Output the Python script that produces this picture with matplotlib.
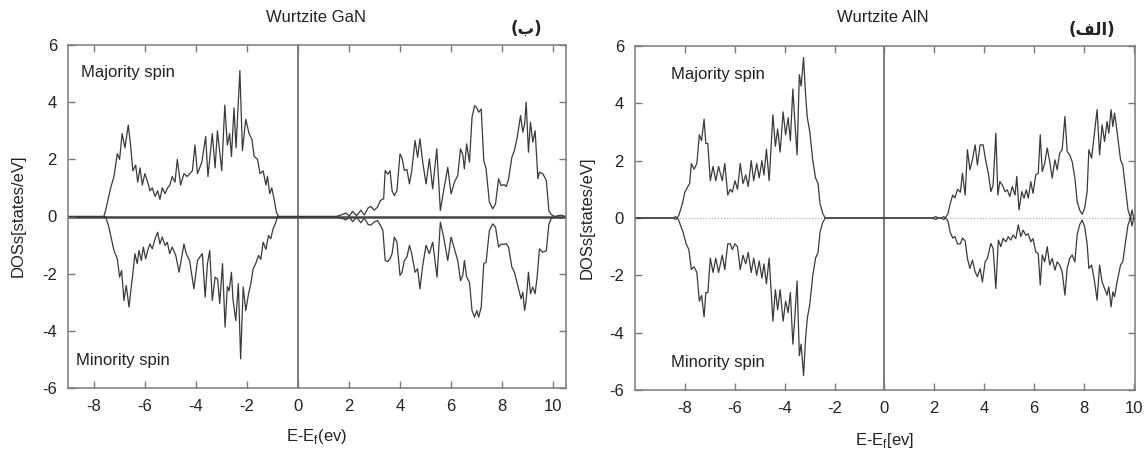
import matplotlib
matplotlib.use("Agg")
import matplotlib.pyplot as plt

plt.rcParams['font.family'] = ['Liberation Sans', 'DejaVu Sans']
plt.rcParams['axes.unicode_minus'] = False

# ---------------- data ----------------
gan_title = "Wurtzite GaN"
aln_title = "Wurtzite AlN"
gan_tag = "(ب)"
aln_tag = "(الف)"

gan_up_x = [
    -9.00, -7.60, -7.53, -7.43, -7.33, -7.20, -7.07, -6.98, -6.88, -6.77,
    -6.64, -6.55, -6.46, -6.35, -6.27, -6.18, -6.09, -5.99, -5.88, -5.79,
    -5.70, -5.59, -5.49, -5.40, -5.31, -5.20, -5.10, -5.01, -4.92, -4.81,
    -4.72, -4.59, -4.46, -4.33, -4.13, -4.03, -3.93, -3.76, -3.61, -3.52,
    -3.35, -3.24, -3.15, -2.98, -2.86, -2.76, -2.67, -2.60, -2.50, -2.42,
    -2.27, -2.17, -2.04, -1.91, -1.80, -1.71, -1.58, -1.48, -1.36, -1.25,
    -1.19, -1.10, -1.02, -0.93, -0.84, -0.76, 1.50, 1.69, 1.88, 2.02,
    2.14, 2.30, 2.47, 2.60, 2.75, 2.86, 2.99, 3.12, 3.23, 3.36,
    3.42, 3.52, 3.61, 3.69, 3.78, 3.88, 4.00, 4.08, 4.17, 4.27,
    4.37, 4.46, 4.59, 4.69, 4.78, 4.89, 5.02, 5.15, 5.28, 5.44,
    5.58, 5.71, 5.87, 6.00, 6.13, 6.26, 6.37, 6.46, 6.52, 6.61,
    6.72, 6.82, 6.92, 7.01, 7.08, 7.18, 7.28, 7.37, 7.50, 7.63,
    7.74, 7.86, 7.96, 8.07, 8.16, 8.25, 8.38, 8.48, 8.59, 8.72,
    8.81, 8.88, 8.94, 9.03, 9.11, 9.20, 9.29, 9.40, 9.46, 9.59,
    9.73, 9.83, 9.92, 10.05, 10.30, 10.50]
gan_up_y = [
    0, 0, 0.2, 0.6, 1.0, 1.4, 2.2, 2.0, 2.9, 2.4,
    3.2, 2.5, 1.6, 1.8, 1.2, 1.7, 1.1, 1.5, 1.2, 0.9,
    1.0, 0.7, 0.9, 0.6, 1.0, 0.8, 1.0, 1.1, 1.4, 1.2,
    2.0, 1.1, 1.5, 1.4, 1.6, 2.5, 1.5, 1.9, 2.8, 1.4,
    2.9, 1.7, 3.0, 1.6, 3.9, 2.5, 2.9, 2.1, 3.8, 2.4,
    5.1, 2.3, 3.4, 2.9, 2.7, 2.1, 2.0, 1.5, 1.6, 1.1,
    1.4, 0.8, 1.0, 0.6, 0.15, 0.0, 0.0, 0.05, 0.12, 0.02,
    0.18, 0.03, 0.22, 0.05, 0.30, 0.35, 0.22, 0.33, 0.56, 0.62,
    1.61, 1.48, 1.60, 0.90, 0.73, 0.90, 2.19, 2.05, 1.61, 1.65,
    1.14, 1.61, 2.66, 2.07, 2.72, 1.90, 1.14, 2.02, 0.97, 2.37,
    0.21, 0.91, 1.72, 0.79, 1.20, 1.43, 2.37, 2.15, 1.67, 2.54,
    1.90, 3.47, 3.88, 3.80, 3.65, 3.76, 1.96, 1.67, 0.50, 0.27,
    0.44, 1.32, 1.08, 1.12, 1.05, 1.30, 2.07, 2.31, 2.77, 3.53,
    2.95, 3.24, 4.00, 2.25, 3.30, 2.60, 3.00, 1.32, 1.55, 1.50,
    1.26, 0.20, 0.07, 0.0, 0.05, 0.0]

gan_dn_x = [
    -9.00, -7.60, -7.53, -7.40, -7.20, -7.07, -6.98, -6.90, -6.81, -6.72,
    -6.61, -6.54, -6.46, -6.38, -6.29, -6.22, -6.13, -6.05, -5.96, -5.88,
    -5.79, -5.70, -5.59, -5.49, -5.40, -5.31, -5.20, -5.11, -5.02, -4.92,
    -4.78, -4.65, -4.55, -4.46, -4.37, -4.24, -4.07, -3.93, -3.84, -3.74,
    -3.63, -3.54, -3.45, -3.35, -3.24, -3.14, -3.06, -2.95, -2.85, -2.76,
    -2.69, -2.60, -2.54, -2.43, -2.33, -2.24, -2.14, -2.04, -1.93, -1.84,
    -1.75, -1.65, -1.54, -1.45, -1.36, -1.25, -1.15, -1.06, -0.97, -0.86,
    -0.80, 1.50, 1.69, 1.88, 2.02, 2.14, 2.30, 2.47, 2.60, 2.75,
    2.86, 2.99, 3.12, 3.23, 3.33, 3.42, 3.52, 3.61, 3.69, 3.78,
    3.88, 4.00, 4.08, 4.17, 4.27, 4.37, 4.46, 4.59, 4.69, 4.78,
    4.89, 5.02, 5.15, 5.28, 5.45, 5.58, 5.71, 5.87, 6.00, 6.13,
    6.26, 6.37, 6.46, 6.52, 6.61, 6.72, 6.82, 6.92, 7.01, 7.08,
    7.18, 7.28, 7.37, 7.50, 7.63, 7.74, 7.86, 7.96, 8.07, 8.16,
    8.25, 8.38, 8.48, 8.61, 8.74, 8.81, 8.88, 8.94, 9.03, 9.11,
    9.20, 9.29, 9.37, 9.46, 9.59, 9.73, 9.83, 9.92, 10.05, 10.30,
    10.50]
gan_dn_y = [
    0, 0, 0, -0.37, -1.19, -1.48, -2.12, -1.89, -2.94, -2.41,
    -3.17, -2.59, -2.0, -1.3, -1.65, -1.19, -1.54, -1.07, -1.48, -1.19,
    -0.96, -1.13, -0.78, -0.55, -0.96, -0.72, -1.01, -0.9, -1.3, -1.07,
    -1.36, -1.95, -1.42, -0.96, -1.3, -1.54, -2.53, -1.54, -1.42, -1.3,
    -2.82, -1.65, -1.19, -2.94, -2.12, -2.2, -3.05, -1.65, -3.87, -2.45,
    -2.6, -1.95, -2.9, -3.64, -2.35, -4.98, -2.47, -3.29, -2.7, -2.35,
    -1.83, -1.65, -1.36, -1.5, -0.9, -1.15, -0.66, -0.78, -0.43, -0.2,
    0.0, 0.0, -0.05, -0.12, -0.02, -0.18, -0.03, -0.22, -0.05, -0.28,
    -0.3, -0.2, -0.14, -0.31, -0.49, -1.54, -1.58, -1.48, -1.3, -0.72,
    -0.9, -2.06, -1.95, -1.54, -1.42, -1.01, -1.3, -1.95, -1.83, -2.53,
    -1.71, -1.01, -1.3, -0.9, -2.12, -0.2, -0.72, -1.54, -0.72, -1.13,
    -1.54, -2.24, -2.05, -1.54, -2.12, -2.3, -3.29, -3.52, -3.29, -3.52,
    -3.17, -1.65, -1.6, -0.49, -0.26, -0.37, -1.07, -0.96, -0.98, -0.95,
    -1.07, -1.77, -1.95, -2.41, -2.88, -2.65, -3.29, -2.94, -1.95, -2.7,
    -2.47, -2.7, -2.12, -1.13, -1.25, -1.2, -0.26, -0.08, 0.0, -0.05,
    0.0]

aln_up_x = [
    -10.0, -8.45, -8.38, -8.30, -8.24, -8.10, -8.00, -7.88, -7.81, -7.74,
    -7.63, -7.52, -7.42, -7.33, -7.23, -7.16, -7.08, -6.98, -6.87, -6.76,
    -6.65, -6.50, -6.40, -6.28, -6.18, -6.10, -5.99, -5.89, -5.78, -5.67,
    -5.56, -5.46, -5.34, -5.24, -5.12, -5.02, -4.91, -4.83, -4.73, -4.62,
    -4.47, -4.37, -4.28, -4.18, -4.06, -3.96, -3.86, -3.77, -3.67, -3.60,
    -3.50, -3.41, -3.34, -3.24, -3.16, -3.09, -2.99, -2.87, -2.76, -2.66,
    -2.58, -2.47, -2.37, 1.95, 2.06, 2.15, 2.28, 2.38, 2.45, 2.55,
    2.64, 2.74, 2.83, 2.93, 3.05, 3.13, 3.24, 3.33, 3.43, 3.53,
    3.64, 3.73, 3.84, 3.96, 4.07, 4.17, 4.27, 4.36, 4.47, 4.55,
    4.63, 4.73, 4.84, 4.93, 5.03, 5.13, 5.24, 5.31, 5.40, 5.51,
    5.60, 5.69, 5.77, 5.87, 5.96, 6.07, 6.17, 6.25, 6.33, 6.43,
    6.53, 6.63, 6.73, 6.84, 6.93, 7.03, 7.13, 7.24, 7.33, 7.43,
    7.53, 7.64, 7.73, 7.83, 7.93, 8.03, 8.13, 8.20, 8.31, 8.43,
    8.53, 8.63, 8.73, 8.83, 8.93, 9.00, 9.09, 9.16, 9.23, 9.33,
    9.47, 9.56, 9.67, 9.77, 9.87, 9.93, 10.0]
aln_up_y = [
    0, 0, 0.05, 0, 0.1, 0.5, 0.9, 1.1, 1.2, 1.9,
    1.7, 1.9, 2.9, 2.7, 3.45, 2.6, 2.6, 1.3, 1.8, 1.3,
    1.8, 1.3, 1.9, 0.8, 1.0, 0.9, 1.3, 1.0, 1.9, 1.2,
    1.5, 1.1, 2.0, 1.3, 1.9, 1.4, 2.0, 1.5, 2.4, 1.3,
    3.6, 2.5, 3.1, 2.3, 3.7, 2.9, 3.5, 2.7, 4.5, 3.5,
    2.2, 5.0, 4.6, 5.6, 4.3, 3.5, 3.0, 2.0, 1.4, 1.2,
    0.5, 0.15, 0, 0, 0.05, 0, 0, 0.05, 0, 0.15,
    0.5, 0.8, 0.7, 1.0, 0.9, 1.56, 0.8, 2.38, 1.68, 2.03,
    2.55, 1.85, 2.55, 2.55, 1.97, 1.56, 0.92, 1.15, 2.96, 0.8,
    1.27, 1.15, 0.92, 0.98, 0.75, 1.1, 0.8, 1.45, 0.28, 0.92,
    0.69, 0.98, 0.69, 1.27, 0.86, 1.5, 1.56, 2.9, 1.62, 1.91,
    2.44, 1.97, 1.39, 2.03, 1.68, 2.26, 2.38, 3.54, 2.32, 2.2,
    1.97, 1.39, 0.57, 0.28, 0.13, 0.34, 0.92, 2.38, 2.09, 3.02,
    3.78, 2.2, 3.25, 2.67, 3.37, 2.96, 3.78, 3.19, 3.66, 3.02,
    2.03, 1.85, 1.04, 0.28, 0.0, 0.28, 0.0]

aln_dn_x = [
    -10.0, -8.45, -8.38, -8.30, -8.24, -8.07, -7.95, -7.84, -7.74, -7.63,
    -7.52, -7.42, -7.33, -7.23, -7.16, -7.08, -6.98, -6.87, -6.76, -6.65,
    -6.50, -6.40, -6.28, -6.18, -6.10, -5.99, -5.89, -5.78, -5.67, -5.56,
    -5.46, -5.34, -5.24, -5.12, -5.02, -4.91, -4.83, -4.73, -4.62, -4.47,
    -4.37, -4.28, -4.18, -4.06, -3.96, -3.86, -3.77, -3.67, -3.60, -3.50,
    -3.41, -3.34, -3.24, -3.16, -3.09, -2.99, -2.87, -2.76, -2.66, -2.58,
    -2.47, -2.37, 1.95, 2.06, 2.15, 2.28, 2.38, 2.45, 2.55, 2.64,
    2.74, 2.83, 2.93, 3.05, 3.13, 3.24, 3.33, 3.43, 3.53, 3.64,
    3.73, 3.84, 3.93, 4.04, 4.13, 4.27, 4.36, 4.47, 4.57, 4.67,
    4.76, 4.87, 4.97, 5.07, 5.16, 5.27, 5.37, 5.47, 5.56, 5.67,
    5.77, 5.87, 5.96, 6.07, 6.17, 6.25, 6.33, 6.43, 6.53, 6.63,
    6.73, 6.84, 6.93, 7.03, 7.13, 7.24, 7.33, 7.43, 7.53, 7.64,
    7.73, 7.83, 7.93, 8.03, 8.13, 8.20, 8.31, 8.43, 8.53, 8.63,
    8.73, 8.83, 8.93, 9.00, 9.09, 9.16, 9.23, 9.33, 9.47, 9.56,
    9.67, 9.77, 9.87, 9.93, 10.0]
aln_dn_y = [
    0, 0, -0.05, 0, -0.1, -0.5, -0.9, -1.1, -1.8, -1.7,
    -1.9, -2.9, -2.7, -3.45, -2.6, -2.6, -1.4, -1.9, -1.4, -1.9,
    -1.3, -1.8, -0.9, -0.9, -1.1, -0.9, -1.0, -1.8, -1.3, -1.6,
    -1.2, -1.9, -1.4, -2.0, -1.5, -2.1, -1.6, -2.3, -1.4, -3.6,
    -2.5, -3.2, -2.5, -3.6, -2.9, -3.3, -2.6, -4.4, -3.6, -2.2,
    -4.8, -4.4, -5.5, -4.2, -3.5, -3.0, -2.0, -1.4, -1.2, -0.5,
    -0.15, 0, 0, -0.05, 0, 0, -0.05, 0, -0.1, -0.5,
    -0.7, -0.65, -0.9, -0.9, -0.7, -0.8, -1.41, -1.76, -1.47, -1.88,
    -2.05, -1.76, -2.23, -1.53, -1.41, -0.89, -1.06, -2.46, -0.77, -1.0,
    -0.71, -0.83, -0.65, -0.77, -0.59, -0.72, -0.24, -0.65, -0.42, -0.6,
    -0.55, -0.83, -0.72, -1.18, -1.24, -2.34, -1.29, -1.53, -1.0, -1.64,
    -1.41, -1.82, -1.53, -1.64, -1.88, -2.69, -1.76, -1.41, -1.29, -1.53,
    -0.59, -0.24, -0.07, -0.3, -0.89, -1.76, -1.64, -2.23, -2.87, -1.64,
    -2.23, -2.46, -2.69, -2.4, -3.1, -2.58, -2.75, -2.23, -1.64, -1.53,
    -0.83, -0.24, 0.0, -0.28, 0.0]

gan_xticks = [-8, -6, -4, -2, 0, 2, 4, 6, 8, 10]
aln_xticks = [-8, -6, -4, -2, 0, 2, 4, 6, 8, 10]
yticks = [-6, -4, -2, 0, 2, 4, 6]


# -------- Arabic display helper (matplotlib has no shaping / bidi) --------
_forms = {  # (char, position) -> presentation form
    ('ا', 'isol'): '\uFE8D', ('ا', 'fina'): '\uFE8E',
    ('ل', 'init'): '\uFEDF', ('ل', 'isol'): '\uFEDD',
    ('ل', 'medi'): '\uFEE0', ('ل', 'fina'): '\uFEDE',
    ('ف', 'fina'): '\uFED2', ('ف', 'isol'): '\uFED1',
    ('ف', 'init'): '\uFED3', ('ف', 'medi'): '\uFED4',
    ('ب', 'isol'): '\uFE8F', ('ب', 'fina'): '\uFE90',
    ('ب', 'init'): '\uFE91', ('ب', 'medi'): '\uFE92',
}
_nonjoin_left = set('اد ذرزو')


def arabic_visual(s):
    inner = s.strip('()')
    out = []
    for i, c in enumerate(inner):
        prev_joins = i > 0 and inner[i - 1] not in _nonjoin_left
        next_joins = i < len(inner) - 1 and c not in _nonjoin_left
        pos = {(False, False): 'isol', (False, True): 'init',
               (True, True): 'medi', (True, False): 'fina'}[(prev_joins, next_joins)]
        out.append(_forms.get((c, pos), c))
    return '(' + ''.join(reversed(out)) + ')'


W, H = 1146, 450
fig = plt.figure(figsize=(W / 100, H / 100), dpi=100)


def fx(x):
    return x / W


def fy(y):
    return 1 - y / H


line_col = '#3a3a3a'
spine_col = '#7a7a7a'
fs = 12


def style(ax, xlim, xticks):
    ax.set_xlim(*xlim)
    ax.set_ylim(-6, 6)
    ax.set_xticks(xticks)
    ax.set_yticks(yticks)
    ax.tick_params(direction='in', top=True, right=True, length=5, width=1,
                   color=spine_col, labelcolor='#222222', labelsize=fs, pad=8)
    for sp in ax.spines.values():
        sp.set_color(spine_col)
        sp.set_linewidth(1.1)


# ---------------- GaN panel ----------------
ax1 = fig.add_axes([fx(68), fy(388), fx(566 - 68), (388 - 45) / H])
style(ax1, (-9.0, 10.5), gan_xticks)
ax1.axhline(0, color='#444444', lw=1.8, zorder=1)
ax1.axvline(0, color='#5a5a5a', lw=1.1, zorder=1)
ax1.plot(gan_up_x, gan_up_y, color=line_col, lw=0.9, zorder=2)
ax1.plot(gan_dn_x, gan_dn_y, color=line_col, lw=0.9, zorder=2)

fig.text(fx(316), fy(17), gan_title, ha='center', va='center', fontsize=fs, color='#222222')
fig.text(fx(526), fy(29), arabic_visual(gan_tag), ha='center', va='center', fontsize=fs,
         fontweight='bold', color='#222222', family=['DejaVu Sans'])
fig.text(fx(81), fy(73), "Majority spin", ha='left', va='center', fontsize=fs, color='#222222')
fig.text(fx(76), fy(361), "Minority spin", ha='left', va='center', fontsize=fs, color='#222222')
fig.text(fx(18), fy(216), "DOSs[states/eV]", rotation=90, ha='center', va='center',
         fontsize=fs, color='#222222')
fig.text(fx(317), fy(436), r"E-E$_\mathregular{f}$(ev)", ha='center', va='center',
         fontsize=fs, color='#222222')

# ---------------- AlN panel ----------------
ax2 = fig.add_axes([fx(635), fy(390), fx(1135 - 635), (390 - 46) / H])
style(ax2, (-10.0, 10.05), aln_xticks)
ax2.axhline(0, color='#aaaaaa', lw=0.8, ls=':', zorder=1)
ax2.axvline(0, color='#5a5a5a', lw=1.1, zorder=1)
ax2.plot(aln_up_x, aln_up_y, color=line_col, lw=0.9, zorder=2)
ax2.plot(aln_dn_x, aln_dn_y, color=line_col, lw=0.9, zorder=2)

fig.text(fx(883), fy(18), aln_title, ha='center', va='center', fontsize=fs, color='#222222')
fig.text(fx(1092), fy(30), arabic_visual(aln_tag), ha='center', va='center', fontsize=fs,
         fontweight='bold', color='#222222', family=['DejaVu Sans'])
fig.text(fx(671), fy(75), "Majority spin", ha='left', va='center', fontsize=fs, color='#222222')
fig.text(fx(671), fy(362), "Minority spin", ha='left', va='center', fontsize=fs, color='#222222')
fig.text(fx(587), fy(218), "DOSs[states/eV]", rotation=90, ha='center', va='center',
         fontsize=fs, color='#222222')
fig.text(fx(885), fy(440), r"E-E$_\mathregular{f}$[ev]", ha='center', va='center',
         fontsize=fs, color='#222222')

fig.savefig("out.png", dpi=100)
